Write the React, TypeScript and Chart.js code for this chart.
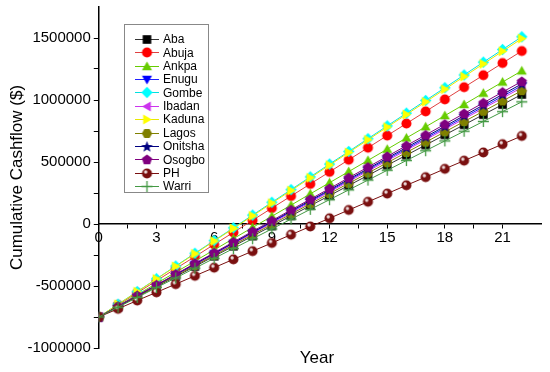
import React, { useEffect, useRef } from "react";
import { Chart, registerables } from "chart.js";

Chart.register(...registerables);

const years = [0, 1, 2, 3, 4, 5, 6, 7, 8, 9, 10, 11, 12, 13, 14, 15, 16, 17, 18, 19, 20, 21, 22];

const aba = [-750000, -668000, -587000, -505000, -424000, -342000, -260000, -179000, -97000, -16000, 66000, 148000, 229000, 311000, 392000, 474000, 555000, 637000, 719000, 800000, 882000, 963000, 1045000];
const abuja = [-750000, -653000, -555000, -458000, -360000, -263000, -165000, -68000, 30000, 128000, 225000, 323000, 420000, 518000, 615000, 713000, 810000, 908000, 1005000, 1103000, 1200000, 1298000, 1395000];
const ankpa = [-750000, -660000, -570000, -479000, -389000, -299000, -209000, -118000, -28000, 62000, 152000, 243000, 333000, 423000, 513000, 603000, 694000, 784000, 874000, 964000, 1055000, 1145000, 1235000];
const enugu = [-750000, -665000, -580000, -496000, -411000, -326000, -241000, -157000, -72000, 13000, 98000, 183000, 267000, 352000, 437000, 522000, 606000, 691000, 776000, 861000, 945000, 1030000, 1115000];
const gombe = [-750000, -647000, -545000, -442000, -339000, -236000, -134000, -31000, 72000, 175000, 277000, 380000, 483000, 585000, 688000, 791000, 894000, 996000, 1099000, 1202000, 1305000, 1407000, 1510000];
const ibadan = [-750000, -666000, -582000, -498000, -414000, -330000, -245000, -161000, -77000, 7000, 91000, 175000, 259000, 343000, 427000, 511000, 595000, 680000, 764000, 848000, 932000, 1016000, 1100000];
const kaduna = [-750000, -648000, -546000, -444000, -342000, -240000, -138000, -36000, 66000, 168000, 270000, 372000, 475000, 577000, 679000, 781000, 883000, 985000, 1087000, 1189000, 1291000, 1393000, 1495000];
const lagos = [-750000, -667000, -584000, -501000, -418000, -335000, -252000, -169000, -86000, -3000, 80000, 163000, 245000, 328000, 411000, 494000, 577000, 660000, 743000, 826000, 909000, 992000, 1075000];
const onitsha = [-750000, -665000, -579000, -494000, -408000, -323000, -237000, -152000, -66000, 19000, 105000, 190000, 275000, 361000, 446000, 532000, 617000, 703000, 788000, 874000, 959000, 1045000, 1130000];
const osogbo = [-750000, -664000, -577000, -491000, -405000, -318000, -232000, -145000, -59000, 27000, 114000, 200000, 286000, 373000, 459000, 545000, 632000, 718000, 805000, 891000, 977000, 1064000, 1150000];
const ph = [-750000, -684000, -617000, -551000, -485000, -418000, -352000, -285000, -219000, -153000, -86000, -20000, 46000, 113000, 179000, 245000, 312000, 378000, 445000, 511000, 577000, 644000, 710000];
const warri = [-750000, -671000, -592000, -513000, -435000, -356000, -277000, -198000, -119000, -40000, 39000, 118000, 196000, 275000, 354000, 433000, 512000, 591000, 670000, 748000, 827000, 906000, 985000];

const seriesNames = ["Aba", "Abuja", "Ankpa", "Enugu", "Gombe", "Ibadan", "Kaduna", "Lagos", "Onitsha", "Osogbo", "PH", "Warri"];
const seriesValues = [aba, abuja, ankpa, enugu, gombe, ibadan, kaduna, lagos, onitsha, osogbo, ph, warri];
const seriesColors = ["#000000", "#ff0000", "#66cc00", "#0000ff", "#00ffff", "#cc33ee", "#ffff00", "#808000", "#000080", "#7f007f", "#7a1010", "#449944"];
const seriesLineColors = ["#333333", "#e04040", "#66cc00", "#2020ff", "#00e0e0", "#cc33ee", "#e8e800", "#808000", "#000080", "#7f007f", "#7a1010", "#449944"];
const seriesShapes = ["square", "circle", "triUp", "triDown", "diamond", "triLeft", "triRight", "hexagon", "star", "pentagon", "ball", "plus"];

const xTickStep = 1.5;
const yTickStep = 250000;

function polygon(ctx: CanvasRenderingContext2D, cx: number, cy: number, r: number, n: number, rot: number) {
  ctx.beginPath();
  for (let i = 0; i < n; i++) {
    const a = rot + (i * 2 * Math.PI) / n;
    const px = cx + r * Math.cos(a);
    const py = cy + r * Math.sin(a);
    if (i === 0) ctx.moveTo(px, py);
    else ctx.lineTo(px, py);
  }
  ctx.closePath();
}

function makeMarker(shape: string, color: string): HTMLCanvasElement {
  const size = 13;
  const c = document.createElement("canvas");
  c.width = size;
  c.height = size;
  const ctx = c.getContext("2d")!;
  const cx = size / 2;
  const cy = size / 2;
  ctx.fillStyle = color;
  ctx.strokeStyle = color;
  ctx.lineWidth = 1;
  switch (shape) {
    case "square":
      ctx.fillRect(cx - 4.3, cy - 4.3, 8.6, 8.6);
      break;
    case "circle":
      ctx.beginPath();
      ctx.arc(cx, cy, 5, 0, Math.PI * 2);
      ctx.fill();
      break;
    case "triUp":
      polygon(ctx, cx, cy + 0.9, 5.8, 3, -Math.PI / 2);
      ctx.fill();
      break;
    case "triDown":
      polygon(ctx, cx, cy - 0.9, 5.8, 3, Math.PI / 2);
      ctx.fill();
      break;
    case "triLeft":
      polygon(ctx, cx + 0.9, cy, 5.8, 3, Math.PI);
      ctx.fill();
      break;
    case "triRight":
      polygon(ctx, cx - 0.9, cy, 5.8, 3, 0);
      ctx.fill();
      break;
    case "diamond":
      polygon(ctx, cx, cy, 5.7, 4, 0);
      ctx.fill();
      break;
    case "hexagon":
      polygon(ctx, cx, cy, 5.2, 6, 0);
      ctx.fill();
      break;
    case "pentagon":
      polygon(ctx, cx, cy + 0.4, 5.4, 5, -Math.PI / 2);
      ctx.fill();
      break;
    case "star": {
      ctx.beginPath();
      for (let i = 0; i < 10; i++) {
        const r = i % 2 === 0 ? 6 : 2.5;
        const a = -Math.PI / 2 + (i * Math.PI) / 5;
        const px = cx + r * Math.cos(a);
        const py = cy + 0.5 + r * Math.sin(a);
        if (i === 0) ctx.moveTo(px, py);
        else ctx.lineTo(px, py);
      }
      ctx.closePath();
      ctx.fill();
      break;
    }
    case "ball": {
      ctx.beginPath();
      ctx.arc(cx, cy, 5, 0, Math.PI * 2);
      ctx.fill();
      ctx.fillStyle = "rgba(255,255,255,0.85)";
      ctx.beginPath();
      ctx.arc(cx - 1.3, cy - 1.5, 1.7, 0, Math.PI * 2);
      ctx.fill();
      break;
    }
    case "plus":
      ctx.lineWidth = 1.3;
      ctx.beginPath();
      ctx.moveTo(cx - 5.5, cy);
      ctx.lineTo(cx + 5.5, cy);
      ctx.moveTo(cx, cy - 5.5);
      ctx.lineTo(cx, cy + 5.5);
      ctx.stroke();
      break;
  }
  return c;
}

const FONT = '"Liberation Sans", Arial, Helvetica, sans-serif';

export default function App() {
  const canvasRef = useRef<HTMLCanvasElement | null>(null);

  useEffect(() => {
    if (!canvasRef.current) return;
    const markers = seriesShapes.map((s, i) => makeMarker(s, seriesColors[i]));
    const n = seriesNames.length;

    const datasets = seriesNames.map((name, i) => ({
      label: name,
      data: years.map((x, j) => ({ x, y: seriesValues[i][j] })),
      borderColor: seriesLineColors[i],
      backgroundColor: seriesColors[i],
      borderWidth: 1,
      pointStyle: markers[i] as any,
      pointRadius: 5,
      showLine: true,
      fill: false,
      tension: 0,
      order: n - i,
    }));

    const overlay = {
      id: "overlay",
      afterDraw(chart: any) {
        const ctx = chart.ctx as CanvasRenderingContext2D;
        const area = chart.chartArea;
        ctx.save();
        // x axis title
        ctx.fillStyle = "#000";
        ctx.font = `17px ${FONT}`;
        ctx.textAlign = "center";
        ctx.textBaseline = "middle";
        ctx.fillText("Year", (area.left + area.right) / 2 - 3, 358);
        // legend
        const bx = 124;
        const by = 24;
        const bw = 84;
        const bh = 168;
        ctx.fillStyle = "#fff";
        ctx.fillRect(bx, by, bw, bh);
        ctx.strokeStyle = "#888";
        ctx.lineWidth = 1;
        ctx.strokeRect(bx + 0.5, by + 0.5, bw, bh);
        ctx.font = `12px ${FONT}`;
        ctx.textAlign = "left";
        for (let i = 0; i < n; i++) {
          const y = by + 15 + i * 13.36;
          ctx.strokeStyle = seriesLineColors[i];
          ctx.lineWidth = 1;
          ctx.beginPath();
          ctx.moveTo(bx + 11, Math.round(y) + 0.5);
          ctx.lineTo(bx + 35, Math.round(y) + 0.5);
          ctx.stroke();
          const m = markers[i];
          ctx.drawImage(m, bx + 23 - m.width / 2, Math.round(y) - m.height / 2 + 0.5);
          ctx.fillStyle = "#000";
          ctx.fillText(seriesNames[i], bx + 39, y + 1);
        }
        ctx.restore();
      },
    };

    const chart = new Chart(canvasRef.current, {
      type: "line",
      data: { datasets: datasets as any },
      options: {
        animation: false,
        responsive: true,
        maintainAspectRatio: false,
        layout: { padding: { top: 7, right: 9, bottom: 24, left: 0 } },
        plugins: {
          legend: { display: false },
          tooltip: { enabled: false },
        },
        scales: {
          x: {
            type: "linear",
            position: { y: 0 } as any,
            min: 0,
            max: 23,
            border: { display: true, color: "#000", width: 1.5 },
            grid: {
              display: true,
              drawOnChartArea: false,
              drawTicks: true,
              tickLength: 4,
              tickColor: (c: any) => (c.tick && c.tick.value >= 23 ? "rgba(0,0,0,0)" : "#000"),
            },
            ticks: {
              stepSize: xTickStep,
              autoSkip: false,
              maxRotation: 0,
              color: "#000",
              padding: 1,
              font: { family: FONT, size: 15 },
              callback: (v: any) => (Number(v) % 3 === 0 && Number(v) <= 22 ? String(v) : ""),
            },
            title: { display: false },
          },
          y: {
            type: "linear",
            position: "left",
            min: -1000000,
            max: 1750000,
            afterFit: (s: any) => {
              s.paddingTop = 0;
              s.paddingBottom = 0;
            },
            border: { display: true, color: "#000", width: 1.5 },
            grid: {
              display: true,
              drawOnChartArea: false,
              drawTicks: true,
              tickLength: 5,
              tickColor: (c: any) => (c.tick && c.tick.value >= 1750000 ? "rgba(0,0,0,0)" : "#000"),
            },
            ticks: {
              stepSize: yTickStep,
              autoSkip: false,
              color: "#000",
              padding: 3,
              font: { family: FONT, size: 15 },
              callback: (v: any) => (Number(v) % 500000 === 0 && Number(v) < 1750000 ? String(v) : ""),
            },
            title: {
              display: true,
              text: "Cumulative Cashflow ($)",
              color: "#000",
              font: { family: FONT, size: 17 },
              padding: { top: 7, bottom: -3 },
            },
          },
        },
      },
      plugins: [overlay],
    });

    return () => chart.destroy();
  }, []);

  return (
    <div style={{ position: "absolute", left: 0, top: 0, width: 550, height: 372, background: "#fff" }}>
      <canvas ref={canvasRef} />
    </div>
  );
}
